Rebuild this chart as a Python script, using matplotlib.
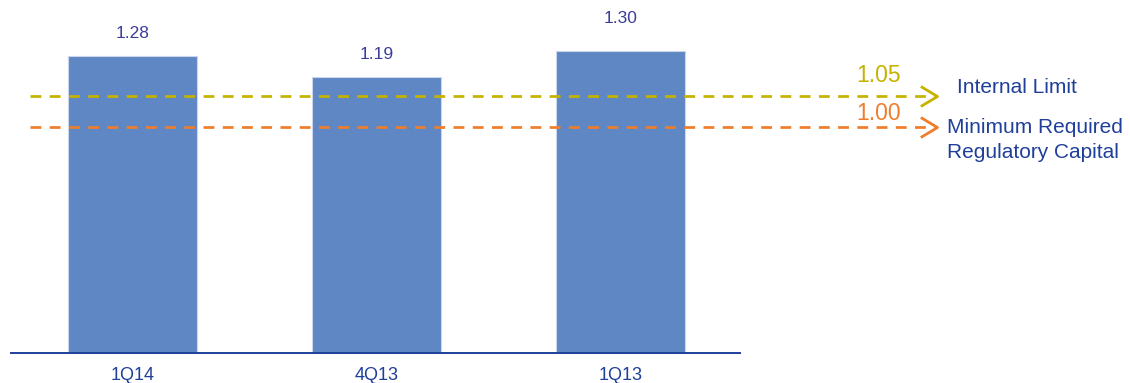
import matplotlib.pyplot as plt
from matplotlib.transforms import blended_transform_factory

plt.rcParams['font.family'] = ['Liberation Sans', 'DejaVu Sans']

# data
quarters = ['1Q14', '4Q13', '1Q13']
ratios = [1.28, 1.19, 1.30]
limit_labels = ['1.05', '1.00']
limit_levels = [1.108, 0.973]      # where the dashed lines sit in the picture
limit_names = ['Internal Limit', 'Minimum Required\nRegulatory Capital']

bar_color = '#5F87C3'
navy = '#1F3F99'
value_color = '#3C3C9A'
limit_colors = ['#C5B300', '#EE7D2C']

W, H = 1130, 383
fig = plt.figure(figsize=(W / 100, H / 100), dpi=100)
ax_left, ax_right, base = 11, 740, 353
ax = fig.add_axes([ax_left / W, (H - base) / H, (ax_right - ax_left) / W, base / H])
ax.set_xlim(-0.498, 2.49)
ax.set_ylim(0, base / 232)
for s in ['top', 'left', 'right']:
    ax.spines[s].set_visible(False)
ax.spines['bottom'].set_color(navy)
ax.spines['bottom'].set_linewidth(1.4)
ax.set_xticks([])
ax.set_yticks([])


def px(x):
    # figure pixel x -> axes fraction
    return (x - ax_left) / (ax_right - ax_left)


xs = range(len(quarters))
ax.bar(xs, ratios, width=0.53, color=bar_color, edgecolor='#C9D6EC', linewidth=0.8, zorder=2)

pads = [16, 15.8, 23.5]
for x, v, name, pad in zip(xs, ratios, quarters, pads):
    ax.annotate(f'{v:.2f}', (x, v), xytext=(0, pad), textcoords='offset points',
                ha='center', va='center', fontsize=12.5, color=value_color)
    ax.annotate(name, (x, 0), xytext=(0, -16.5), textcoords='offset points',
                ha='center', va='center', fontsize=13, color=navy, annotation_clip=False)

tr = blended_transform_factory(ax.transAxes, ax.transData)
label_pads = [14.5, 10]
name_x = [957, 947]
name_pads = [6, 6.5]
for lvl, lab, name, c, lp, nx, npad in zip(limit_levels, limit_labels, limit_names,
                                          limit_colors, label_pads, name_x, name_pads):
    ax.plot([px(30), px(935)], [lvl, lvl], transform=tr, color=c, lw=1.95,
            dashes=(4, 3.1), clip_on=False, zorder=3)
    ax.plot([px(937)], [lvl], transform=tr, marker=[(-1, 0.6), (0, 0), (-1, -0.6)],
            markersize=24, markerfacecolor='none', markeredgecolor=c,
            markeredgewidth=2, clip_on=False, zorder=3)
    ax.annotate(lab, (px(879), lvl), xycoords=('axes fraction', 'data'),
                xytext=(0, lp), textcoords='offset points', ha='center', va='center',
                fontsize=16.5, color=c, annotation_clip=False)
    ax.annotate(name, (px(nx), lvl), xycoords=('axes fraction', 'data'),
                xytext=(0, npad), textcoords='offset points', ha='left', va='top' if '\n' in name else 'center',
                fontsize=15, color=navy, linespacing=1.38, annotation_clip=False)

fig.savefig('out.png', dpi=100)
